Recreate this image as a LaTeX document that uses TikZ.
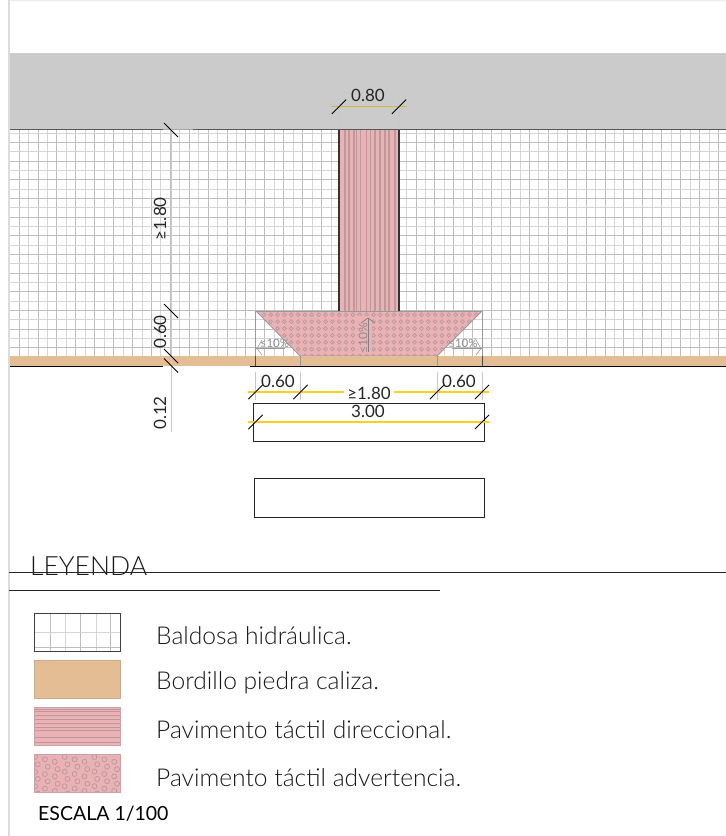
\documentclass[tikz,border=0pt]{standalone}
\usepackage{fontspec}
\setmainfont{Lato}
\newfontfamily\lightf{Lato Light}
\usetikzlibrary{arrows.meta}
\definecolor{paper}{HTML}{FFFFFF}
\definecolor{roadgrey}{HTML}{CBCBCB}
\definecolor{margin}{HTML}{DCDCDC}
\definecolor{kerb}{HTML}{E4BD95}
\definecolor{tactile}{HTML}{EBB2B5}
\definecolor{ringc}{HTML}{B8989A}
\definecolor{stripe}{HTML}{BC9A9C}
\definecolor{gridA}{HTML}{BEBEBE}
\definecolor{gridB}{HTML}{D4D4D4}
\definecolor{dimy}{HTML}{FBCF1E}
\definecolor{dimpale}{HTML}{EBCB68}
\definecolor{extl}{HTML}{C8C8C8}
\tikzset{
  x=1pt,y=-1pt,
  griddark/.style={draw=gridA,line width=1pt},
  gridlight/.style={draw=gridB,line width=1pt},
  dimline/.style={draw=dimy,line width=1.1pt},
  extline/.style={draw=extl,line width=0.8pt},
  tick/.style={draw=black,line width=0.8pt},
  dimtext/.style={inner sep=0pt,font=\fontsize{17}{18}\selectfont,text=black!85},
  legtext/.style={inner sep=0pt,anchor=west,font=\lightf\fontsize{24.6}{26}\selectfont,text=black!90},
  smallgrey/.style={inner sep=0pt,font=\fontsize{11.5}{12}\selectfont,text=black!45},
  ringstyle/.style={draw=ringc,line width=0.7pt},
  boxline/.style={draw=black!85,line width=0.8pt},
}
\begin{document}
\begin{tikzpicture}
\useasboundingbox (0,0) rectangle (726,836);
\fill[paper] (0,0) rectangle (726,836);
\draw[draw=margin!50,line width=1pt] (9,0.5) -- (726,0.5);
\draw[draw=margin,line width=1.6pt] (9,0) -- (9,836);
% road
\fill[roadgrey] (10,53) rectangle (726,129);
% pavement grid
\begin{scope}
\clip (10,130) rectangle (726,356);
\foreach \i in {0,...,75}{
  \pgfmathsetmacro{\xx}{round(18.7+9.45*\i)+0.5}
  \pgfmathtruncatemacro{\pp}{mod(\i,2)}
  \ifnum\pp=0 \draw[griddark] (\xx,130) -- (\xx,356); \else \draw[gridlight] (\xx,130) -- (\xx,356); \fi
}
\foreach \i in {0,...,24}{
  \pgfmathsetmacro{\yy}{round(132.7+9.33*\i)+0.5}
  \pgfmathtruncatemacro{\pp}{mod(\i,2)}
  \ifnum\pp=0 \draw[gridlight] (10,\yy) -- (726,\yy); \else \draw[griddark] (10,\yy) -- (726,\yy); \fi
}
\end{scope}
\draw[draw=black!65,line width=1.8pt] (10,129.5) -- (163,129.5);
\draw[draw=black!35,line width=1.2pt] (163,129.5) -- (193,129.5);
\draw[draw=black!65,line width=1.8pt] (193,129.5) -- (726,129.5);
% directional band
\fill[tactile] (339,130) rectangle (399,311);
\foreach \xx in {345,349,354,356.7,360.7,366.7,370.7,375,380,385,389,395}{
  \draw[draw=stripe,line width=1.2pt] (\xx,130) -- (\xx,311);
}
\draw[draw=black!80,line width=1.1pt] (339,130) -- (339,311);
\draw[draw=black!80,line width=1.1pt] (399,130) -- (399,311);
% warning trapezoid
\fill[tactile] (256,311) -- (482,311) -- (437,356) -- (300,356) -- cycle;
\begin{scope}
\clip (256,311) -- (482,311) -- (437,356) -- (300,356) -- cycle;
\foreach \r in {0,...,6}{
  \pgfmathsetmacro{\yy}{314.7+6.9*\r}
  \foreach \c in {0,...,33}{
    \pgfmathsetmacro{\xx}{257+6.85*\c}
    \draw[ringstyle] (\xx,\yy) circle (1.9);
  }
}
\end{scope}
\fill[tactile] (358,316) rectangle (372,354);
\draw[draw=gray!80,line width=0.8pt] (256,311) -- (482,311);
\draw[draw=gray!80,line width=0.8pt] (256,311) -- (300,356) -- (437,356) -- (482,311);
% central slope mark
\draw[draw=black!50,line width=0.7pt] (368,352) -- (368,318);
\draw[draw=black!50,line width=0.7pt] (361,323) -- (368,318) -- (375,323);
\node[smallgrey,rotate=90,font=\fontsize{12}{12}\selectfont] (slopec) at (363,338) {≤10\%};
% side slope marks
\draw[extline,draw=black!40] (255.5,311) -- (255.5,366);
\draw[extline,draw=black!40] (482,311) -- (482,366);
\node[smallgrey] (slopel) at (274.5,343) {≤10\%};
\node[smallgrey] (sloper) at (463,343) {≤10\%};
\draw[draw=black!40,line width=0.6pt] (256,348.5) -- (285,348.5);
\draw[draw=black!40,line width=0.6pt] (452,348.5) -- (482,348.5);
\draw[draw=black!40,line width=0.6pt] (262,340) -- (257,348.5) -- (262,355);
\draw[draw=black!40,line width=0.6pt] (476,340) -- (481,348.5) -- (476,355);
% kerb
\fill[kerb] (10,356) rectangle (726,365.5);
\draw[draw=black,line width=1pt] (10,366) -- (163,366);
\draw[draw=black,line width=1pt] (250,366) -- (726,366);
\draw[draw=black!40,line width=0.8pt] (300.5,356) -- (300.5,366);
\draw[draw=black!40,line width=0.8pt] (437,356) -- (437,366);
\draw[draw=black!70,line width=0.8pt] (255.5,356) -- (255.5,366);
\draw[draw=black!70,line width=0.8pt] (482,356) -- (482,366);
% lower boxes
\draw[boxline] (253.5,403) rectangle (484,441);
\draw[boxline] (254,478.5) rectangle (484,517);
% extension lines below
\foreach \xx in {255.5,300.5,437,482}{\draw[extline] (\xx,372) -- (\xx,400);}
% dimensions
\draw[draw=dimpale,line width=1pt] (171.5,129) -- (171.5,432);
\draw[dimline] (248,392) -- (344,392);
\draw[dimline] (394,392) -- (489,392);
\draw[dimline] (248,422) -- (489,422);
\draw[dimline,draw=dimy!70!gray] (331,106.7) -- (407,106.7);
\draw[extline] (339,100) -- (339,125);
\draw[extline] (399,100) -- (399,125);
% ticks
\foreach \xx/\yy in {339/106.7,399/106.7,255.5/392,300.5/392,437/392,482/392,255.5/422,482/422}{
  \draw[tick] (\xx-7.2,\yy+7.2) -- (\xx+7.2,\yy-7.2);
}
\foreach \yy in {130,311,356,365.5}{
  \draw[tick] (164,\yy-7) -- (178,\yy+7);
}
% dimension text
\node[dimtext] (d080) at (368,95) {0.80};
\node[dimtext,rotate=90] (d180v) at (160,219) {≥1.80};
\node[dimtext,rotate=90] (d060v) at (160,332) {0.60};
\node[dimtext,rotate=90] (d012v) at (160,413) {0.12};
\node[dimtext] (d060a) at (278,381) {0.60};
\node[dimtext] (d180h) at (369,393) {≥1.80};
\node[dimtext] (d060b) at (459,381) {0.60};
\node[dimtext] (d300) at (368,411) {3.00};
% legend
\node[legtext,anchor=west,font=\lightf\fontsize{26.5}{28}\selectfont] (leyenda) at (30,566) {LEYENDA};
\draw[draw=black!85,line width=0.8pt] (9,572.7) -- (726,572.7);
\draw[draw=black!85,line width=0.8pt] (9,590) -- (440,590);
% swatch 1
\begin{scope}
\clip (34.5,613) rectangle (120,651.5);
\foreach \xx/\cc in {50/gridA,65.5/gridB,80.5/gridA,96/gridB,110.5/gridA}{\draw[draw=\cc,line width=0.9pt] (\xx,613) -- (\xx,651);}
\draw[gridlight] (34.5,632) -- (120,632);
\draw[griddark] (34.5,647) -- (120,647);
\end{scope}
\draw[draw=black!75,line width=0.9pt] (34.5,613) rectangle (120,651.5);
% swatch 2
\fill[kerb] (34.5,660) rectangle (120,698.5);
\draw[draw=kerb!70!gray,line width=0.8pt] (34.5,660) rectangle (120,698.5);
% swatch 3
\fill[tactile] (34.5,707) rectangle (120,745.5);
\foreach \yy in {709,711.5,715,719,723,727,730,737,742}{\draw[draw=stripe,line width=0.8pt] (34.5,\yy) -- (120,\yy);}
\draw[draw=tactile!70!gray,line width=0.8pt] (34.5,707) rectangle (120,745.5);
% swatch 4
\fill[tactile] (34.5,754) rectangle (120,792.5);
\begin{scope}
\clip (34.5,754) rectangle (120,792.5);
\foreach \r in {0,...,5}{
  \foreach \c in {0,...,9}{
    \pgfmathsetmacro{\yy}{757+7.3*\r+2.4*mod(\c,3)}
    \pgfmathsetmacro{\xx}{35+9.9*\c+2.8*mod(\r,2)}
    \draw[ringstyle] (\xx,\yy) circle (2.5);
  }
}
\end{scope}
\draw[draw=tactile!70!gray,line width=0.8pt] (34.5,754) rectangle (120,792.5);
\node[legtext] (l1) at (156,636) {Baldosa hidráulica.};
\node[legtext] (l2) at (156,683) {Bordillo piedra caliza.};
\node[legtext] (l3) at (156,730) {Pavimento táctil direccional.};
\node[legtext] (l4) at (156,778) {Pavimento táctil advertencia.};
\node[inner sep=0pt,anchor=west,font=\fontsize{19.5}{20}\selectfont,text=black] (esc) at (38,813.5) {ESCALA 1/100};
\end{tikzpicture}
\end{document}
